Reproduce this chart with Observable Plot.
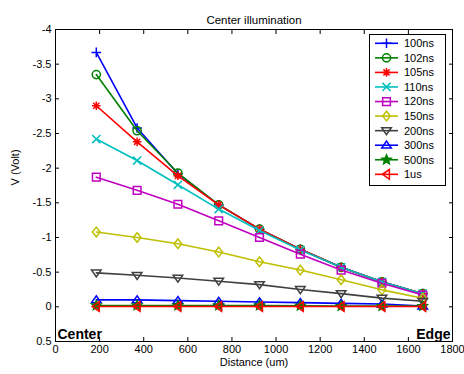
<!DOCTYPE html>
<html><head><meta charset="utf-8">
<script src="https://cdn.jsdelivr.net/npm/d3@7"></script>
<script src="https://cdn.jsdelivr.net/npm/@observablehq/plot@0.6"></script>
<style>body{margin:0;background:#fff}</style>
</head><body><div id="chart"></div>
<script>
const distance = [185, 370, 555, 740, 925, 1110, 1295, 1480, 1665];
const seriesNames = ["100ns","102ns","105ns","110ns","120ns","150ns","200ns","300ns","500ns","1us"];
const v100ns = [-3.67, -2.58, -1.92, -1.47, -1.12, -0.83, -0.57, -0.36, -0.19];
const v102ns = [-3.35, -2.54, -1.93, -1.47, -1.12, -0.83, -0.57, -0.36, -0.19];
const v105ns = [-2.90, -2.38, -1.89, -1.47, -1.12, -0.83, -0.57, -0.36, -0.19];
const v110ns = [-2.42, -2.11, -1.76, -1.41, -1.10, -0.82, -0.57, -0.36, -0.19];
const v120ns = [-1.87, -1.68, -1.48, -1.24, -1.00, -0.76, -0.53, -0.34, -0.17];
const v150ns = [-1.08, -1.00, -0.91, -0.79, -0.65, -0.53, -0.39, -0.245, -0.125];
const v200ns = [-0.49, -0.455, -0.415, -0.37, -0.32, -0.25, -0.19, -0.125, -0.08];
const v300ns = [-0.10, -0.10, -0.09, -0.08, -0.07, -0.06, -0.05, -0.04, -0.01];
const v500ns = [-0.02, -0.02, -0.02, -0.02, -0.02, -0.015, -0.01, -0.01, -0.01];
const v1us   = [-0.005, -0.005, -0.005, -0.005, -0.005, -0.005, -0.005, -0.005, -0.005];
const xTicks = [0, 200, 400, 600, 800, 1000, 1200, 1400, 1600, 1800];
const yTicks = [-4, -3.5, -3, -2.5, -2, -1.5, -1, -0.5, 0, 0.5];
const colors = ["#0000ff","#008000","#ff0000","#00bfbf","#bf00bf","#bfbf00","#404040","#0000ff","#008000","#ff0000"];

const allValues = [v100ns, v102ns, v105ns, v110ns, v120ns, v150ns, v200ns, v300ns, v500ns, v1us];

// marker shapes
const R = s => Math.sqrt(s / Math.PI);
const symPlus = {draw(c, s){const r=R(s); c.moveTo(-r,0); c.lineTo(r,0); c.moveTo(0,-r); c.lineTo(0,r);}};
const symCircle = {draw(c, s){const r=R(s)*0.85; c.moveTo(r,0); c.arc(0,0,r,0,2*Math.PI);}};
const symAst = {draw(c, s){const r=R(s)*0.9; c.moveTo(-r,0); c.lineTo(r,0); c.moveTo(0,-r); c.lineTo(0,r);
  const d=r*0.707; c.moveTo(-d,-d); c.lineTo(d,d); c.moveTo(-d,d); c.lineTo(d,-d);}};
const symTimes = {draw(c, s){const r=R(s)*0.85; c.moveTo(-r,-r); c.lineTo(r,r); c.moveTo(-r,r); c.lineTo(r,-r);}};
const symSquare = {draw(c, s){const r=R(s)*0.8; c.rect(-r,-r,2*r,2*r);}};
const symDiamond = {draw(c, s){const r=R(s); c.moveTo(0,-r); c.lineTo(r*0.8,0); c.lineTo(0,r); c.lineTo(-r*0.8,0); c.closePath();}};
const symTriDown = {draw(c, s){const r=R(s); c.moveTo(-r,-r*0.6); c.lineTo(r,-r*0.6); c.lineTo(0,r*0.85); c.closePath();}};
const symTriUp = {draw(c, s){const r=R(s); c.moveTo(-r,r*0.6); c.lineTo(r,r*0.6); c.lineTo(0,-r*0.85); c.closePath();}};
const symStar = {draw(c, s){const r=R(s); for(let i=0;i<10;i++){const a=-Math.PI/2+i*Math.PI/5; const rr=i%2?r*0.45:r; const x=rr*Math.cos(a), y=rr*Math.sin(a); i?c.lineTo(x,y):c.moveTo(x,y);} c.closePath();}};
const symTriLeft = {draw(c, s){const r=R(s); c.moveTo(r*0.6,-r); c.lineTo(r*0.6,r); c.lineTo(-r*0.85,0); c.closePath();}};
const symbols = [symPlus, symCircle, symAst, symTimes, symSquare, symDiamond, symTriDown, symTriUp, symStar, symTriLeft];

const rows = [];
seriesNames.forEach((name, i) => distance.forEach((d, j) => rows.push({series: name, idx: i, x: d, v: allValues[i][j]})));

const marks = [];
seriesNames.forEach((name, i) => {
  const data = rows.filter(r => r.idx === i);
  marks.push(Plot.line(data, {x: "x", y: "v", stroke: colors[i], strokeWidth: 1.6}));
  marks.push(Plot.dot(data, {x: "x", y: "v", symbol: () => symbols[i], r: 4.8,
    stroke: colors[i], strokeWidth: 1.5, fill: i === 8 ? colors[i] : "none"}));
});

const fmt = d => String(d);

const plot = Plot.plot({
  width: 464, height: 374,
  marginLeft: 55, marginRight: 12, marginTop: 29, marginBottom: 33,
  style: {fontFamily: "'Liberation Sans', Arial, sans-serif", fontSize: "11px", background: "#fff", color: "#000", overflow: "visible"},
  x: {domain: [0, 1800]},
  y: {domain: [-4, 0.5], reverse: true},
  symbol: {type: "identity"},
  marks: [
    ...marks,
    Plot.frame({stroke: "#000", strokeWidth: 1}),
    Plot.axisX(xTicks, {anchor: "bottom", tickSize: 0, tickPadding: 4, label: null, fontSize: 11, tickFormat: fmt}),
    Plot.axisX(xTicks, {anchor: "bottom", tickSize: 4, dy: -4, tickFormat: () => "", label: null}),
    Plot.axisX(xTicks, {anchor: "top", tickSize: 4, dy: 4, tickFormat: () => "", label: null}),
    Plot.axisY(yTicks, {anchor: "left", tickSize: 0, tickPadding: 4, label: null, fontSize: 11, tickFormat: fmt}),
    Plot.axisY(yTicks, {anchor: "left", tickSize: 4, dx: 4, tickFormat: () => "", label: null}),
    Plot.axisY(yTicks, {anchor: "right", tickSize: 4, dx: -4, tickFormat: () => "", label: null}),
    Plot.text(["Center illumination"], {frameAnchor: "top", dy: -14, fontSize: 11.5, text: d => d}),
    Plot.text(["Distance (um)"], {frameAnchor: "bottom", dy: 24, fontSize: 11, text: d => d}),
    Plot.text(["V (Volt)"], {frameAnchor: "left", dx: -40, rotate: -90, fontSize: 11, text: d => d}),
    Plot.text(["Center"], {frameAnchor: "bottom-left", dx: 2, dy: -3, textAnchor: "start", lineAnchor: "bottom", fontSize: 14, fontWeight: "bold", text: d => d}),
    Plot.text(["Edge"], {frameAnchor: "bottom-right", dx: -2, dy: -3, textAnchor: "end", lineAnchor: "bottom", fontSize: 14, fontWeight: "bold", text: d => d})
  ]
});
document.getElementById("chart").appendChild(plot);

// legend
const svg = d3.select(plot);
const lg = svg.append("g").attr("font-family", "'Liberation Sans', Arial, sans-serif").attr("font-size", 11).attr("text-anchor", "start");
lg.append("rect").attr("x", 369.5).attr("y", 34.5).attr("width", 76).attr("height", 151)
  .attr("fill", "#fff").attr("stroke", "#000");
seriesNames.forEach((name, i) => {
  const y = 43.3 + i * 14.56;
  lg.append("line").attr("x1", 375).attr("x2", 398).attr("y1", y).attr("y2", y)
    .attr("stroke", colors[i]).attr("stroke-width", 1.6);
  lg.append("path").attr("transform", `translate(386.5,${y})`)
    .attr("d", () => { const p = d3.path(); symbols[i].draw(p, Math.PI * 4.8 * 4.8); return p.toString(); })
    .attr("stroke", colors[i]).attr("stroke-width", 1.5).attr("fill", i === 8 ? colors[i] : "none");
  lg.append("text").attr("x", 404).attr("y", y).attr("dy", "0.35em").attr("text-anchor", "start").text(name);
});
</script>
</body></html>
